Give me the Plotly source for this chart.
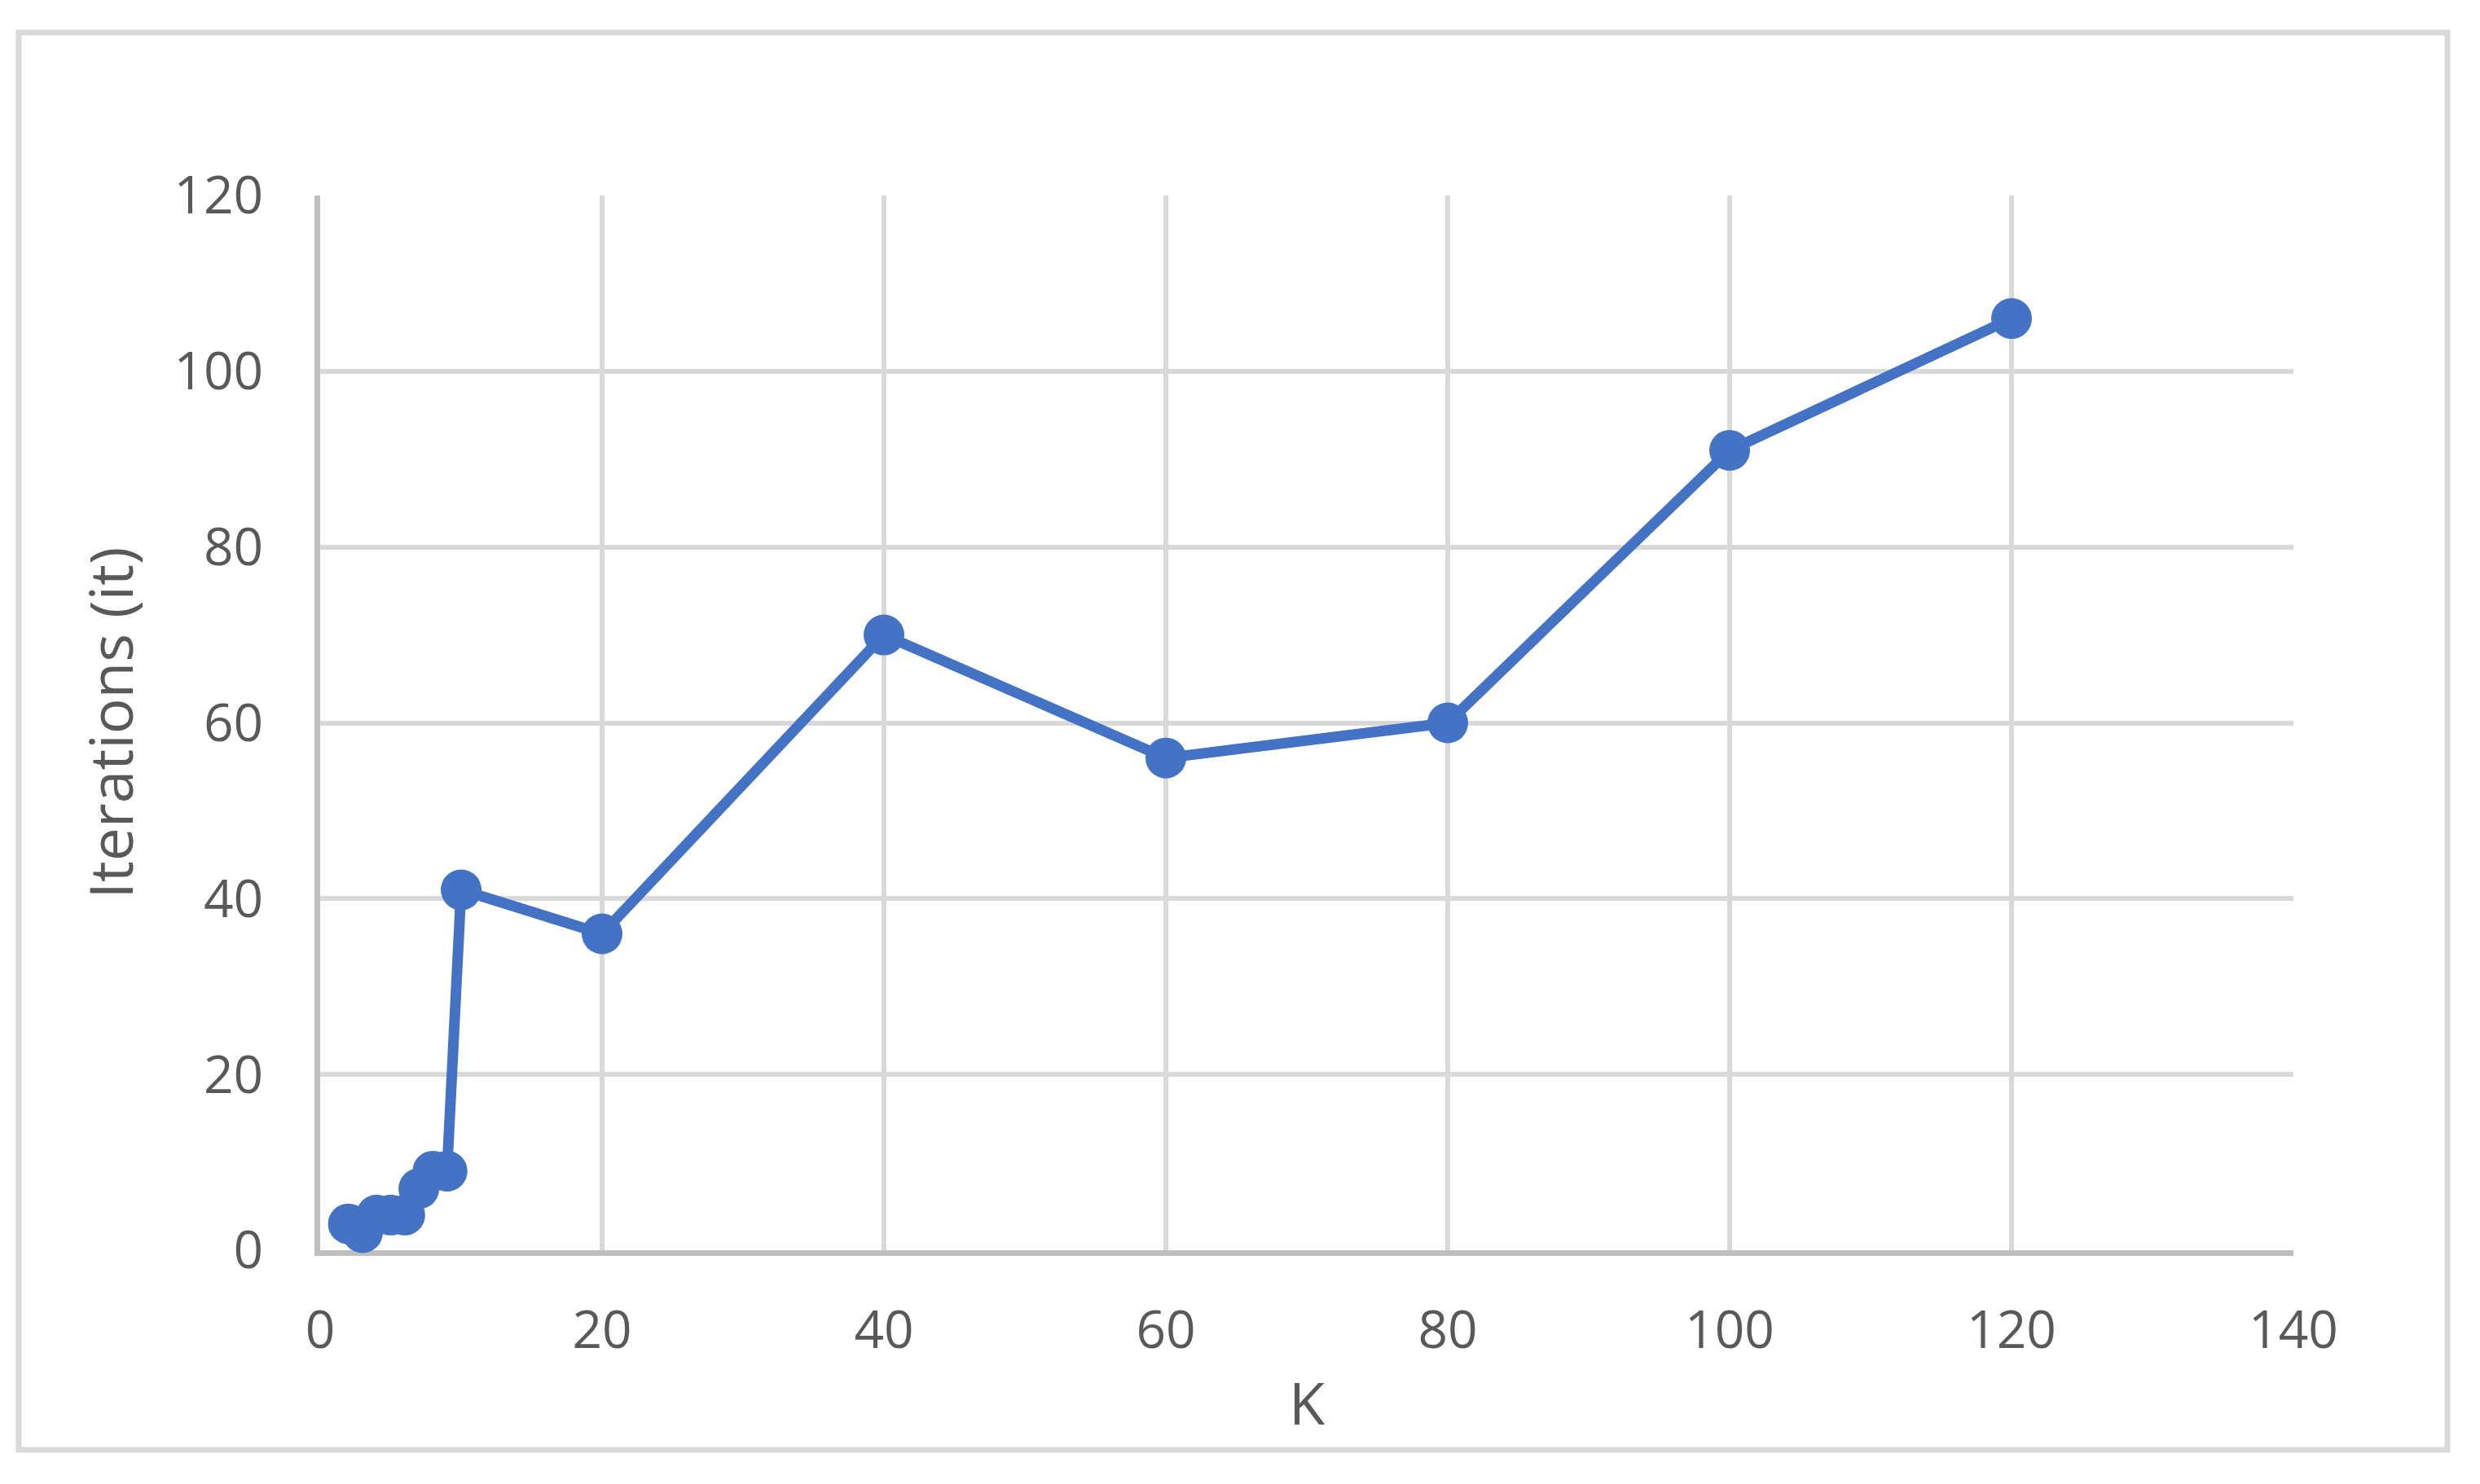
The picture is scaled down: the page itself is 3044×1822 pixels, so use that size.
import plotly.graph_objects as go

k_values = [2, 3, 4, 5, 6, 7, 8, 9, 10, 20, 40, 60, 80, 100, 120]
iterations = [3, 2, 4, 4, 4, 7, 9, 9, 41, 36, 70, 56, 60, 91, 106]
x_ticks = [0, 20, 40, 60, 80, 100, 120, 140]
y_ticks = [0, 20, 40, 60, 80, 100, 120]

W, H = 3044, 1822
OFF = 8  # default page body margin
L, R, T, B = 393 - OFF, 229 + OFF, 240 - OFF, 287 + OFF
pw, ph = W - L - R, H - T - B

fig = go.Figure()
fig.add_trace(go.Scatter(
    x=k_values, y=iterations, mode="lines+markers",
    line=dict(color="#4472C4", width=13),
    marker=dict(color="#4472C4", size=50, line=dict(width=0)),
    cliponaxis=False, showlegend=False,
))

font_family = "Open Sans, Lato, Liberation Sans, sans-serif"
axis_common = dict(
    showgrid=True, gridcolor="#D9D9D9", gridwidth=6,
    showline=True, linecolor="#BFBFBF", linewidth=7,
    zeroline=False, layer="below traces",
    ticks="outside", tickcolor="rgba(0,0,0,0)",
    tickfont=dict(family=font_family, size=64, color="#595959"),
)
fig.update_xaxes(range=[0, 140], tickvals=x_ticks, ticklen=36, **axis_common,
                 title=dict(text="K", standoff=28,
                            font=dict(family=font_family, size=72, color="#595959")))
fig.update_yaxes(range=[0, 120], tickvals=y_ticks, ticklen=50, **axis_common,
                 title=dict(text="Iterations (it)", standoff=28,
                            font=dict(family=font_family, size=73, color="#595959")))

def px_x(p):
    return (p - OFF - L) / pw

def px_y(p):
    return (H - B - (p - OFF)) / ph

fig.add_shape(type="rect", xref="paper", yref="paper",
              x0=px_x(23), x1=px_x(3004), y0=px_y(1780), y1=px_y(40),
              line=dict(color="#D9D9D9", width=7), fillcolor="rgba(0,0,0,0)", layer="below")

fig.update_layout(
    width=W, height=H,
    margin=dict(l=L, r=R, t=T, b=B),
    paper_bgcolor="white", plot_bgcolor="white",
)
fig.write_html("out.html")
